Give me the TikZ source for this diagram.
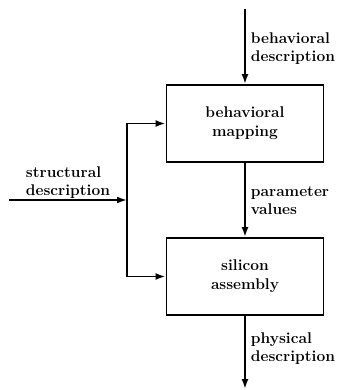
\documentclass[tikz,border=0pt]{standalone}
\usetikzlibrary{arrows.meta}

\begin{document}
\begin{tikzpicture}[x=1pt, y=-1pt, line width=1.9pt, >={Latex[length=10pt,width=7pt]}]
\tikzstyle{stage}=[draw, minimum width=157pt, minimum height=77pt, align=center, font=\fontsize{15.5}{19}\selectfont\bfseries];
\tikzstyle{lbl}=[anchor=west, align=left, inner sep=0pt, font=\fontsize{15.5}{18}\selectfont\bfseries];
\useasboundingbox (0,0) rectangle (339,390);
\node [stage] (map) at (245,123.5) {behavioral\\mapping};
\node [stage] (asm) at (245,276.5) {silicon\\assembly};
\coordinate (top) at (245,9);
\coordinate (bot) at (245,389);
\coordinate (in) at (9,200);
\coordinate (j) at (127,200);
\draw [->] (top) -- (map); % behavioral input
\draw [->] (map) -- (asm);
\draw [->] (asm) -- (bot);
\draw [->] (in) -- (j); % structural input
\draw [->] (j) |- (map.west);
\draw [->] (j) |- (asm.west);
\node [lbl] (bd) at (250,49) {behavioral\\description};
\node [lbl] (sd) at (25,183) {structural\\description};
\node [lbl] (pv) at (250,201) {parameter\\values};
\node [lbl] (pd) at (250,349) {physical\\description};
\end{tikzpicture}
\end{document}
